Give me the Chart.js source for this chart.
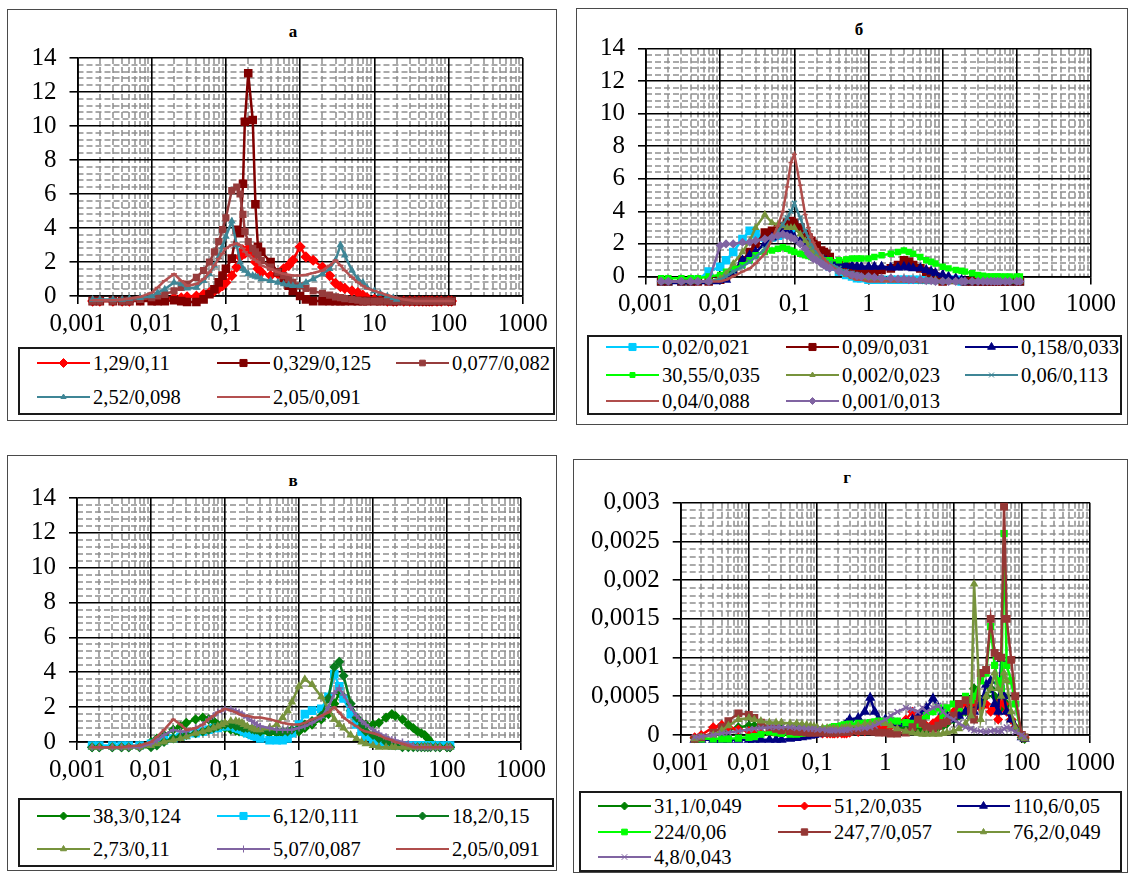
<!DOCTYPE html>
<html>
<head>
<meta charset="utf-8">
<script src="https://cdn.jsdelivr.net/npm/chart.js@4.4.1/dist/chart.umd.min.js"></script>
<style>
  body { margin: 0; width: 1131px; height: 874px; position: relative; overflow: hidden; background: #fff;
         font-family: "Liberation Serif", "Times New Roman", serif; }
  .frame { position: absolute; border: 1.5px solid #4a4a4a; box-sizing: border-box; }
  .ttl { position: absolute; font-weight: bold; font-size: 17px; transform: translate(-50%, -50%); }
  .legend { position: absolute; border: 2px solid #1a1a1a; box-sizing: border-box; }
  .item { position: absolute; font-size: 20.5px; white-space: nowrap; transform: translateY(-50%); }
  canvas { position: absolute; }
</style>
</head>
<body>
<script>
// particle size grid shared by all panels
const sizes = [
  0.0016, 0.002, 0.003, 0.004, 0.005, 0.007,
  0.01, 0.012, 0.015, 0.02, 0.025, 0.03, 0.04, 0.05, 0.06, 0.07, 0.08, 0.09,
  0.1, 0.12, 0.14, 0.155, 0.17, 0.18, 0.2, 0.23, 0.25, 0.27, 0.3, 0.4, 0.5, 0.6, 0.7, 0.8,
  1, 1.2, 1.5, 2, 2.5, 3, 3.5, 4, 5, 6, 7, 8,
  10, 12, 15, 18, 20, 25, 30, 35, 40, 45, 50, 55, 60, 70, 80, 100, 110
];

const decades = [0.001, 0.01, 0.1, 1, 10, 100, 1000];
const decadeLabels = ['0,001', '0,01', '0,1', '1', '10', '100', '1000'];
const yTicks = [0, 2, 4, 6, 8, 10, 12, 14];
const yLabels = ['0', '2', '4', '6', '8', '10', '12', '14'];
const yTicksG = [0, 0.0005, 0.001, 0.0015, 0.002, 0.0025, 0.003];
const yLabelsG = ['0', '0,0005', '0,001', '0,0015', '0,002', '0,0025', '0,003'];

// а
const a_129_011 = [
  -0.3, -0.3, -0.3, -0.3, -0.3, -0.25,
  -0.2, -0.2, -0.15, -0.1, -0.1, -0.05, 0, 0.1, 0.2, 0.3, 0.45, 0.6,
  0.8, 1.2, 1.7, 2.3, 2.7, 2.5, 2.8, 2.6, 2.0, 1.6, 1.4, 1.2, 1.3, 1.6, 1.8, 2.1,
  2.9, 2.3, 2.1, 1.7, 1.2, 0.75, 0.55, 0.45, 0.3, 0.2, 0.05, -0.1,
  -0.2, -0.25, -0.3, -0.3, -0.3, -0.3, -0.3, -0.3, -0.3, -0.3, -0.3, -0.3, -0.3, -0.3, -0.3, -0.3, -0.3
];
const a_0329_0125 = [
  -0.3, -0.3, -0.3, -0.3, -0.3, -0.3,
  -0.3, -0.3, -0.3, -0.25, -0.3, -0.35, -0.35, -0.2, 0.1, 0.4, 0.8, 1.2,
  1.6, 2.2, 3.9, 3.7, 6.6, 10.25, 13.1, 10.35, 5.4, 2.9, 2.6, 2.0, 1.4, 1.0, 0.6, 0.3,
  0.0, -0.2, -0.3, -0.3, -0.3, -0.3, -0.3, -0.3, -0.3, -0.3, -0.3, -0.3,
  -0.3, -0.3, -0.3, -0.3, -0.3, -0.3, -0.3, -0.3, -0.3, -0.3, -0.3, -0.3, -0.3, -0.3, -0.3, -0.3, -0.3
];
const a_0077_0082 = [
  -0.3, -0.3, -0.3, -0.3, -0.3, -0.2,
  -0.1, 0.0, 0.1, 0.3, 0.5, 0.7, 1.1, 1.5, 2.0, 2.6, 3.2, 3.9,
  4.6, 6.2, 6.4, 6.0, 4.8, 3.8, 3.2, 2.8, 2.6, 2.4, 2.1, 1.7, 1.4, 1.2, 1.0, 0.8,
  0.6, 0.45, 0.3, 0.15, 0.05, -0.05, -0.1, -0.15, -0.2, -0.25, -0.3, -0.3,
  -0.3, -0.3, -0.3, -0.3, -0.3, -0.3, -0.3, -0.3, -0.3, -0.3, -0.3, -0.3, -0.3, -0.3, -0.3, -0.3, -0.3
];
const a_252_0098 = [
  -0.2, -0.2, -0.2, -0.2, -0.15, -0.1,
  0.0, 0.2, 0.4, 0.8, 0.7, 0.45, 0.5, 0.9, 1.3, 1.8, 2.3, 2.9,
  3.5, 4.4, 3.0, 2.0, 1.6, 1.5, 1.3, 1.2, 1.15, 1.1, 1.0, 0.9, 0.8, 0.7, 0.65, 0.6,
  0.6, 0.8, 1.0, 1.3, 1.6, 2.1, 3.0, 2.4, 1.5, 1.0, 0.8, 0.5,
  0.3, 0.15, 0.0, -0.1, -0.2, null, null, null, null, null, null, null, null, null, null, null, null
];
const a_205_0091 = [
  -0.25, -0.25, -0.25, -0.2, -0.15, -0.05,
  0.2, 0.5, 0.9, 1.3, 0.9, 0.6, 0.7, 1.0, 1.4, 1.8, 2.2, 2.5,
  2.8, 3.0, 3.1, 3.0, 2.8, 2.6, 2.4, 2.2, 2.1, 2.0, 1.8, 1.6, 1.4, 1.3, 1.25, 1.2,
  1.2, 1.25, 1.35, 1.5, 1.8, 2.1, 1.8, 1.5, 1.1, 0.8, 0.6, 0.45,
  0.3, 0.2, 0.05, -0.05, -0.1, -0.2, -0.25, -0.3, -0.3, -0.3, -0.3, -0.3, -0.3, -0.3, -0.3, -0.3, -0.3
];

// б
const b_002_0021 = [
  -0.3, -0.3, -0.3, -0.3, -0.2, 0.3,
  0.6, 1.0, 1.5, 2.3, 2.8, 2.6, 2.4, 2.4, 2.5, 2.6, 2.7, 2.9,
  3.1, 3.0, 2.5, 2.1, 1.8, 1.6, 1.4, 1.1, 0.9, 0.8, 0.6, 0.3, 0.1, 0.0, -0.1, -0.1,
  -0.2, -0.2, -0.2, -0.2, -0.2, -0.2, -0.2, -0.2, -0.2, -0.2, -0.2, -0.2,
  -0.2, -0.2, -0.2, -0.3, -0.3, -0.3, -0.3, -0.3, -0.3, -0.3, -0.3, -0.3, -0.3, -0.3, -0.3, -0.3, -0.3
];
const b_009_0031 = [
  -0.3, -0.3, -0.3, -0.3, -0.3, -0.3,
  -0.2, 0.0, 0.3, 1.0, 1.5, 2.0, 2.7, 2.8, 2.9, 3.1, 3.3, 3.4,
  3.3, 3.0, 2.6, 2.4, 2.2, 2.0, 1.9, 1.6, 1.5, 1.4, 1.2, 0.8, 0.6, 0.5, 0.4, 0.35,
  0.3, 0.3, 0.4, 0.5, 0.7, 1.0, 0.9, 0.7, 0.5, 0.3, 0.2, 0.0,
  -0.3, -0.4, -0.4, -0.4, -0.3, -0.3, -0.3, -0.3, -0.3, -0.3, -0.3, -0.3, -0.3, -0.3, -0.3, -0.3, -0.3
];
const b_0158_0033 = [
  -0.4, -0.4, -0.4, -0.4, -0.4, -0.4,
  -0.4, -0.2, 0.3, 1.0, 1.3, 1.5, 2.0, 2.4, 2.6, 2.7, 2.7, 2.6,
  2.4, 2.2, 2.0, 1.8, 1.6, 1.5, 1.3, 1.1, 1.0, 0.95, 0.9, 0.8, 0.7, 0.65, 0.6, 0.6,
  0.6, 0.6, 0.6, 0.55, 0.55, 0.6, 0.55, 0.5, 0.5, 0.4, 0.3, 0.2,
  0.1, 0.0, -0.1, -0.2, -0.3, -0.4, -0.4, -0.4, -0.4, -0.4, -0.4, -0.4, -0.4, -0.4, -0.4, -0.4, -0.4
];
const b_3055_0035 = [
  -0.1, -0.1, -0.1, -0.1, -0.1, 0.0,
  0.1, 0.3, 0.5, 0.7, 1.0, 1.3, 1.5, 1.6, 1.7, 1.8, 1.7, 1.6,
  1.5, 1.4, 1.3, 1.25, 1.2, 1.15, 1.1, 1.05, 1.0, 1.0, 1.0, 1.0, 1.05, 1.1, 1.1, 1.1,
  1.1, 1.2, 1.3, 1.4, 1.5, 1.6, 1.5, 1.4, 1.2, 1.0, 0.9, 0.8,
  0.6, 0.5, 0.4, 0.35, 0.3, 0.2, 0.1, 0.05, 0.0, 0.0, 0.0, 0.0, 0.0, 0.0, 0.0, 0.0, 0.0
];
const b_0002_0023 = [
  -0.3, -0.3, -0.3, -0.3, -0.3, -0.3,
  -0.1, 0.2, 0.8, 1.5, 2.2, 3.0, 3.8, 3.3, 3.2, 3.1, 3.0, 3.0,
  3.0, 2.6, 2.2, 1.9, 1.6, 1.5, 1.3, 1.0, 0.9, 0.75, 0.6, 0.3, 0.1, 0.0, -0.1, -0.1,
  -0.2, -0.2, -0.2, -0.2, -0.2, -0.2, -0.2, -0.2, -0.2, -0.2, -0.2, -0.2,
  -0.3, -0.3, -0.3, -0.3, -0.3, -0.3, -0.3, -0.3, -0.3, -0.3, -0.3, -0.3, -0.3, -0.3, -0.3, -0.3, -0.3
];
const b_006_0113 = [
  -0.3, -0.3, -0.3, -0.3, -0.3, -0.3,
  -0.2, 0.0, 0.3, 0.6, 0.9, 1.2, 1.7, 2.3, 2.8, 3.2, 3.6, 4.0,
  4.5, 3.6, 2.8, 2.4, 2.0, 1.8, 1.5, 1.2, 1.0, 0.9, 0.8, 0.5, 0.3, 0.2, 0.1, 0.0,
  0.0, -0.1, -0.1, -0.2, -0.2, -0.2, -0.2, -0.2, -0.3, -0.3, -0.3, -0.3,
  -0.3, -0.3, -0.3, -0.3, -0.3, -0.3, -0.3, -0.3, -0.3, -0.3, -0.3, -0.3, -0.3, -0.3, -0.3, -0.3, -0.3
];
const b_004_0088 = [
  -0.3, -0.3, -0.3, -0.3, -0.3, -0.3,
  -0.3, -0.2, 0.0, 0.3, 0.5, 0.8, 1.4, 2.3, 3.1, 4.0, 5.5, 7.0,
  7.5, 5.6, 3.8, 3.0, 2.4, 2.1, 1.7, 1.3, 1.1, 0.9, 0.7, 0.3, 0.1, -0.1, -0.2, -0.2,
  -0.3, -0.3, -0.3, -0.3, -0.3, -0.3, -0.3, -0.3, -0.3, -0.3, -0.3, -0.3,
  -0.3, -0.3, -0.3, -0.3, -0.3, -0.3, -0.3, -0.3, -0.3, -0.3, -0.3, -0.3, -0.3, -0.3, -0.3, -0.3, -0.3
];
const b_0001_0013 = [
  -0.3, -0.3, -0.3, -0.3, -0.3, -0.3,
  1.9, 2.0, 2.0, 2.1, 2.1, 2.2, 2.3, 2.4, 2.5, 2.6, 2.5, 2.4,
  2.3, 2.0, 1.7, 1.4, 1.2, 1.1, 1.0, 0.8, 0.7, 0.6, 0.5, 0.3, 0.2, 0.1, 0.05, 0.0,
  0.0, -0.05, -0.1, -0.1, -0.15, -0.15, -0.2, -0.2, -0.2, -0.25, -0.25, -0.3,
  -0.3, -0.3, -0.3, -0.3, -0.3, -0.3, -0.3, -0.3, -0.3, -0.3, -0.3, -0.3, -0.3, -0.3, -0.3, -0.3, -0.3
];

// в
const c_383_0124 = [
  -0.3, -0.3, -0.3, -0.3, -0.3, -0.2,
  0.0, 0.2, 0.4, 0.7, 0.9, 1.1, 1.3, 1.4, 1.3, 1.2, 1.0, 0.9,
  0.8, 0.7, 0.65, 0.6, 0.6, 0.55, 0.5, 0.5, 0.5, 0.5, 0.5, 0.5, 0.5, 0.5, 0.55, 0.6,
  0.6, 0.8, 1.0, 1.3, 1.6, 2.2, 2.8, 2.6, 1.8, 1.3, 1.1, 1.0,
  1.0, 1.1, 1.4, 1.6, 1.5, 1.3, 1.0, 0.8, 0.6, 0.5, 0.4, 0.2, 0.0, -0.2, -0.3, -0.3, -0.3
];
const c_612_0111 = [
  -0.2, -0.2, -0.2, -0.2, -0.2, -0.2,
  -0.1, 0.0, 0.1, 0.2, 0.3, 0.4, 0.5, 0.6, 0.7, 0.8, 0.8, 0.9,
  0.9, 0.9, 0.8, 0.75, 0.7, 0.6, 0.5, 0.4, 0.35, 0.3, 0.2, 0.1, 0.1, 0.1, 0.2, 0.5,
  1.0, 1.6, 1.8, 1.9, 2.6, 3.9, 3.2, 2.5, 1.6, 1.0, 0.6, 0.3,
  0.1, 0.0, -0.1, -0.2, -0.2, -0.2, -0.2, -0.2, -0.2, -0.2, -0.2, -0.2, -0.2, -0.2, -0.2, -0.2, -0.2
];
const c_182_015 = [
  -0.3, -0.3, -0.3, -0.3, -0.3, -0.3,
  -0.3, -0.2, 0.0, 0.2, 0.3, 0.4, 0.5, 0.6, 0.7, 0.8, 0.9, 1.0,
  1.0, 1.0, 0.9, 0.9, 0.85, 0.8, 0.8, 0.75, 0.7, 0.7, 0.6, 0.6, 0.6, 0.6, 0.6, 0.7,
  0.8, 1.0, 1.2, 1.5, 2.5, 4.3, 4.6, 3.8, 2.2, 1.4, 0.9, 0.6,
  0.4, 0.2, 0.0, -0.1, -0.2, -0.3, -0.3, -0.3, -0.3, -0.3, -0.3, -0.3, -0.3, -0.3, -0.3, -0.3, -0.3
];
const c_273_011 = [
  -0.3, -0.3, -0.3, -0.3, -0.3, -0.3,
  -0.2, -0.1, 0.0, 0.1, 0.2, 0.3, 0.5, 0.6, 0.7, 0.8, 0.9, 1.0,
  1.1, 1.2, 1.2, 1.15, 1.1, 1.0, 0.9, 0.8, 0.75, 0.7, 0.7, 0.8, 1.0, 1.4, 1.8, 2.3,
  3.2, 3.6, 3.3, 2.6, 1.9, 1.3, 1.0, 0.8, 0.4, 0.2, 0.0, -0.1,
  -0.2, -0.3, -0.3, -0.3, -0.3, -0.3, -0.3, -0.3, -0.3, -0.3, -0.3, -0.3, -0.3, -0.3, -0.3, -0.3, -0.3
];
const c_507_0087 = [
  -0.3, -0.3, -0.3, -0.3, -0.3, -0.3,
  -0.1, 0.1, 0.4, 0.7, 0.6, 0.6, 0.8, 1.0, 1.3, 1.5, 1.7, 1.8,
  1.9, 1.9, 1.8, 1.7, 1.6, 1.5, 1.4, 1.2, 1.1, 1.0, 0.9, 0.8, 0.7, 0.7, 0.7, 0.7,
  0.8, 0.9, 1.1, 1.4, 2.0, 2.8, 3.1, 2.7, 2.0, 1.5, 1.2, 1.0,
  0.7, 0.5, 0.3, 0.15, 0.1, 0.0, -0.1, -0.2, -0.3, -0.3, -0.3, -0.3, -0.3, -0.3, -0.3, -0.3, -0.3
];
const c_205_0091 = [
  -0.3, -0.3, -0.3, -0.3, -0.25, -0.2,
  0.0, 0.3, 0.7, 1.3, 1.0, 0.7, 0.8, 1.0, 1.3, 1.5, 1.7, 1.8,
  1.9, 1.8, 1.7, 1.6, 1.55, 1.5, 1.5, 1.45, 1.4, 1.4, 1.4, 1.3, 1.2, 1.1, 1.05, 1.0,
  1.0, 1.1, 1.3, 1.5, 1.7, 2.0, 1.7, 1.4, 1.1, 0.9, 0.7, 0.6,
  0.5, 0.4, 0.2, 0.1, 0.0, -0.1, -0.2, -0.3, -0.3, -0.3, -0.3, -0.3, -0.3, -0.3, -0.3, -0.3, -0.3
];

// г
const d_311_0049 = [
  -0.4e-4, -0.3e-4, 0, 0.3e-4, 0.7e-4, 1.0e-4,
  1.2e-4, 1.2e-4, 1.1e-4, 1.0e-4, 0.9e-4, 0.8e-4, 0.7e-4, 0.6e-4, 0.6e-4, 0.5e-4, 0.5e-4, 0.5e-4,
  0.5e-4, 0.5e-4, 0.5e-4, 0.6e-4, 0.6e-4, 0.7e-4, 0.7e-4, 0.8e-4, 0.8e-4, 0.9e-4, 1.0e-4, 1.1e-4, 1.2e-4, 1.2e-4, 1.3e-4, 1.3e-4,
  1.3e-4, 1.2e-4, 1.0e-4, 0.8e-4, 0.6e-4, 0.5e-4, 0.5e-4, 0.6e-4, 0.8e-4, 1.0e-4, 1.2e-4, 1.5e-4,
  2.0e-4, 2.5e-4, 3.0e-4, 3.5e-4, 6.0e-4, 4.0e-4, 5.0e-4, 6.0e-4, 5.0e-4, 4.0e-4, 3.5e-4, 5.0e-4, 4.0e-4, 2.0e-4, 1.0e-4, -0.3e-4, -0.5e-4
];
const d_512_0035 = [
  -0.3e-4, 0, 1.0e-4, 1.3e-4, 1.0e-4, 0.7e-4,
  0.5e-4, 0.4e-4, 0.3e-4, 0.3e-4, 0.2e-4, 0.2e-4, 0.2e-4, 0.2e-4, 0.2e-4, 0.2e-4, 0.2e-4, 0.2e-4,
  0.2e-4, 0.2e-4, 0.2e-4, 0.2e-4, 0.2e-4, 0.2e-4, 0.2e-4, 0.2e-4, 0.2e-4, 0.2e-4, 0.3e-4, 0.4e-4, 0.5e-4, 0.6e-4, 0.7e-4, 0.8e-4,
  1.0e-4, 1.2e-4, 1.5e-4, 2.0e-4, 3.0e-4, 2.5e-4, 1.5e-4, 1.2e-4, 1.5e-4, 2.0e-4, 2.5e-4, 2.5e-4,
  3.0e-4, 3.5e-4, 4.0e-4, 4.5e-4, 4.0e-4, 3.5e-4, 4.0e-4, 3.0e-4, 3.5e-4, 2.0e-4, 4.5e-4, 4.0e-4, 3.0e-4, 2.0e-4, 1.0e-4, 0, -0.3e-4
];
const d_1106_005 = [
  -0.6e-4, -0.6e-4, -0.6e-4, -0.6e-4, -0.6e-4, -0.6e-4,
  -0.6e-4, -0.6e-4, -0.6e-4, -0.6e-4, -0.6e-4, -0.6e-4, -0.5e-4, -0.4e-4, -0.3e-4, -0.2e-4, -0.1e-4, 0,
  0.1e-4, 0.2e-4, 0.3e-4, 0.4e-4, 0.5e-4, 0.6e-4, 0.8e-4, 1.0e-4, 1.2e-4, 1.5e-4, 2.0e-4, 2.2e-4, 3.0e-4, 4.8e-4, 3.0e-4, 2.0e-4,
  2.0e-4, 1.8e-4, 1.5e-4, 1.5e-4, 2.0e-4, 2.5e-4, 3.0e-4, 3.5e-4, 4.7e-4, 3.5e-4, 3.0e-4, 2.5e-4,
  2.0e-4, 2.5e-4, 3.0e-4, 2.5e-4, 3.0e-4, 4.0e-4, 6.5e-4, 7.0e-4, 4.0e-4, 3.0e-4, 9.8e-4, 5.0e-4, 3.0e-4, 2.0e-4, 1.0e-4, -0.3e-4, -0.5e-4
];
const d_224_006 = [
  -0.5e-4, -0.5e-4, -0.5e-4, -0.5e-4, -0.5e-4, -0.4e-4,
  -0.3e-4, -0.2e-4, 0.1e-4, 0.4e-4, 0.3e-4, 0.2e-4, 0.1e-4, 0.1e-4, 0.2e-4, 0.3e-4, 0.4e-4, 0.5e-4,
  0.6e-4, 0.7e-4, 0.8e-4, 0.9e-4, 1.0e-4, 1.1e-4, 1.1e-4, 1.2e-4, 1.3e-4, 1.3e-4, 1.4e-4, 1.5e-4, 1.5e-4, 1.6e-4, 1.7e-4, 1.8e-4,
  1.8e-4, 1.9e-4, 1.8e-4, 1.6e-4, 1.5e-4, 1.4e-4, 2.0e-4, 2.5e-4, 3.0e-4, 3.5e-4, 2.5e-4, 3.5e-4,
  4.0e-4, 3.5e-4, 5.0e-4, 4.5e-4, 5.0e-4, 7.0e-4, 8.0e-4, 14.0e-4, 9.0e-4, 7.0e-4, 6.0e-4, 26.0e-4, 9.0e-4, 7.0e-4, 4.0e-4, 0, -0.3e-4
];
const d_2477_0057 = [
  -0.5e-4, -0.3e-4, 0.3e-4, 1.0e-4, 1.8e-4, 2.8e-4,
  2.6e-4, 2.2e-4, 1.6e-4, 1.0e-4, 0.8e-4, 0.6e-4, 0.5e-4, 0.4e-4, 0.4e-4, 0.3e-4, 0.3e-4, 0.3e-4,
  0.3e-4, 0.3e-4, 0.3e-4, 0.3e-4, 0.3e-4, 0.3e-4, 0.3e-4, 0.4e-4, 0.4e-4, 0.4e-4, 0.4e-4, 0.5e-4, 0.5e-4, 0.5e-4, 0.4e-4, 0.3e-4,
  0.3e-4, 0.2e-4, 0.2e-4, 0.3e-4, 1.0e-4, 2.0e-4, 1.5e-4, 1.0e-4, 0.8e-4, 1.2e-4, 1.5e-4, 1.8e-4,
  2.5e-4, 4.0e-4, 4.5e-4, 3.0e-4, 2.0e-4, 8.0e-4, 8.4e-4, 15.0e-4, 10.6e-4, 10.2e-4, 10.0e-4, 29.5e-4, 15.0e-4, 9.7e-4, 5.0e-4, 0, -0.3e-4
];
const d_762_0049 = [
  -0.5e-4, -0.3e-4, 0, 0.6e-4, 1.2e-4, 2.0e-4,
  2.2e-4, 2.0e-4, 1.8e-4, 1.6e-4, 1.6e-4, 1.6e-4, 1.5e-4, 1.5e-4, 1.4e-4, 1.3e-4, 1.2e-4, 1.1e-4,
  1.0e-4, 0.9e-4, 0.9e-4, 0.8e-4, 0.8e-4, 0.8e-4, 0.8e-4, 0.9e-4, 0.9e-4, 1.0e-4, 1.1e-4, 1.2e-4, 1.4e-4, 1.5e-4, 1.5e-4, 1.6e-4,
  1.5e-4, 1.2e-4, 0.8e-4, 0.5e-4, 0.3e-4, 0.2e-4, 0.1e-4, 0.1e-4, 0.1e-4, 0.1e-4, 0.2e-4, 0.3e-4,
  0.5e-4, 0.8e-4, 1.5e-4, 2.5e-4, 19.5e-4, 2.0e-4, 5.0e-4, 6.0e-4, 8.0e-4, 6.0e-4, 5.0e-4, 8.0e-4, 7.0e-4, 3.0e-4, 1.0e-4, -0.3e-4, -0.5e-4
];
const d_48_0043 = [
  -0.3e-4, -0.2e-4, 0, 0.2e-4, 0.3e-4, 0.5e-4,
  0.7e-4, 0.8e-4, 0.9e-4, 1.0e-4, 1.0e-4, 1.0e-4, 1.0e-4, 0.9e-4, 0.9e-4, 0.8e-4, 0.8e-4, 0.8e-4,
  0.7e-4, 0.7e-4, 0.6e-4, 0.6e-4, 0.6e-4, 0.6e-4, 0.6e-4, 0.6e-4, 0.65e-4, 0.7e-4, 0.7e-4, 0.8e-4, 0.9e-4, 1.0e-4, 1.2e-4, 1.5e-4,
  2.0e-4, 2.5e-4, 3.0e-4, 3.5e-4, 3.3e-4, 3.0e-4, 3.5e-4, 3.0e-4, 3.5e-4, 3.8e-4, 3.0e-4, 2.5e-4,
  2.0e-4, 1.5e-4, 1.0e-4, 0.8e-4, 0.6e-4, 0.5e-4, 0.4e-4, 0.5e-4, 0.6e-4, 0.5e-4, 0.5e-4, 0.8e-4, 1.0e-4, 0.8e-4, 0.4e-4, 0, -0.3e-4
];

// boxes: [left, top, right, bottom] in page pixels
const panels = [
  {
    title: 'а', box: [7, 9, 557, 421], plot: [77.5, 58, 522.7, 296], titleAt: [293, 32],
    legend: [18, 347, 555, 415], rows: [16, 50],
    ticks: yTicks, labels: yLabels, minorStep: 0.4,
    series: [
      { label: '1,29/0,11', values: a_129_011, color: '#ff0000', marker: 'rectRot', r: 4.5 },
      { label: '0,329/0,125', values: a_0329_0125, color: '#800000', marker: 'rect', r: 5 },
      { label: '0,077/0,082', values: a_0077_0082, color: '#963c3c', marker: 'rect', r: 4 },
      { label: '2,52/0,098', values: a_252_0098, color: '#3f8696', marker: 'triangle', r: 3 },
      { label: '2,05/0,091', values: a_205_0091, color: '#b45050', marker: 'line', r: 3 }
    ]
  },
  {
    title: 'б', box: [576, 8, 1128, 425], plot: [646, 48.5, 1091, 276.5], titleAt: [859, 30],
    legend: [587, 335, 1122, 415], rows: [12, 40, 66],
    ticks: yTicks, labels: yLabels, minorStep: 0.4,
    series: [
      { label: '0,02/0,021', values: b_002_0021, color: '#00ccff', marker: 'rect', r: 5 },
      { label: '0,09/0,031', values: b_009_0031, color: '#800000', marker: 'rect', r: 5 },
      { label: '0,158/0,033', values: b_0158_0033, color: '#000080', marker: 'triangle', r: 4.5 },
      { label: '30,55/0,035', values: b_3055_0035, color: '#00ff00', marker: 'rect', r: 3.5 },
      { label: '0,002/0,023', values: b_0002_0023, color: '#77933c', marker: 'triangle', r: 3 },
      { label: '0,06/0,113', values: b_006_0113, color: '#3f8696', marker: 'crossRot', r: 3.5 },
      { label: '0,04/0,088', values: b_004_0088, color: '#b04e4c', marker: 'line', r: 2.5 },
      { label: '0,001/0,013', values: b_0001_0013, color: '#8064a2', marker: 'rectRot', r: 3.5 }
    ]
  },
  {
    title: 'в', box: [7, 455, 557, 871], plot: [77, 498, 521, 742], titleAt: [293, 481],
    legend: [18, 798, 554, 867], rows: [18, 51],
    ticks: yTicks, labels: yLabels, minorStep: 0.4,
    series: [
      { label: '38,3/0,124', values: c_383_0124, color: '#008000', marker: 'rectRot', r: 4 },
      { label: '6,12/0,111', values: c_612_0111, color: '#00ccff', marker: 'rect', r: 5 },
      { label: '18,2/0,15', values: c_182_015, color: '#0a7a1e', marker: 'rectRot', r: 4 },
      { label: '2,73/0,11', values: c_273_011, color: '#77933c', marker: 'triangle', r: 3.5 },
      { label: '5,07/0,087', values: c_507_0087, color: '#8064a2', marker: 'cross', r: 3.5 },
      { label: '2,05/0,091', values: c_205_0091, color: '#b04e4c', marker: 'line', r: 2.5 }
    ]
  },
  {
    title: 'г', box: [573, 459, 1128, 873], plot: [680.7, 502.7, 1090, 735], titleAt: [847, 478],
    legend: [579, 791, 1122, 872], rows: [15, 41, 66],
    ticks: yTicksG, labels: yLabelsG, minorStep: 0.0001,
    series: [
      { label: '31,1/0,049', values: d_311_0049, color: '#008000', marker: 'rectRot', r: 4 },
      { label: '51,2/0,035', values: d_512_0035, color: '#ff0000', marker: 'rectRot', r: 4 },
      { label: '110,6/0,05', values: d_1106_005, color: '#000080', marker: 'triangle', r: 4.5 },
      { label: '224/0,06', values: d_224_006, color: '#00ff00', marker: 'rect', r: 4 },
      { label: '247,7/0,057', values: d_2477_0057, color: '#953735', marker: 'rect', r: 4.5 },
      { label: '76,2/0,049', values: d_762_0049, color: '#77933c', marker: 'triangle', r: 3.5 },
      { label: '4,8/0,043', values: d_48_0043, color: '#8064a2', marker: 'crossRot', r: 4 }
    ]
  }
];

const legendCols = [19, 199, 378];
const tickFont = { family: "'Liberation Serif', 'Times New Roman', serif", size: 25 };

// dashed minor grid under the solid major one
const minorGrid = {
  id: 'minorGrid',
  beforeDraw(chart, args, opts) {
    const { ctx, chartArea: a, scales: { x, y } } = chart;
    ctx.save();
    ctx.strokeStyle = '#8f8f8f';
    ctx.lineWidth = 1.5;
    ctx.setLineDash([6, 3]);
    ctx.beginPath();
    decades.slice(0, -1).forEach(d => {
      for (let m = 2; m < 10; m++) {
        const px = Math.round(x.getPixelForValue(d * m));
        ctx.moveTo(px, a.top);
        ctx.lineTo(px, a.bottom);
      }
    });
    const n = Math.round(y.max / opts.step);
    for (let k = 1; k < n; k++) {
      if (k % 5 === 0) continue;
      const py = Math.round(y.getPixelForValue(k * opts.step));
      ctx.moveTo(a.left, py);
      ctx.lineTo(a.right, py);
    }
    ctx.stroke();
    ctx.restore();
  }
};

function place(el, l, t, w, h) {
  el.style.left = l + 'px';
  el.style.top = t + 'px';
  if (w !== undefined) el.style.width = w + 'px';
  if (h !== undefined) el.style.height = h + 'px';
  document.body.appendChild(el);
}

function buildPanel(p) {
  const [bl, bt, br, bb] = p.box;
  const frame = document.createElement('div');
  frame.className = 'frame';
  place(frame, bl, bt, br - bl, bb - bt);

  const ttl = document.createElement('div');
  ttl.className = 'ttl';
  ttl.textContent = p.title;
  place(ttl, p.titleAt[0], p.titleAt[1]);

  // chart canvas: from the frame top down to the legend
  const cl = bl + 1, ct = bt + 1, cr = br - 1, cb = p.legend[1] - 2;
  const cv = document.createElement('canvas');
  cv.width = cr - cl;
  cv.height = cb - ct;
  place(cv, cl, ct, cr - cl, cb - ct);

  const [pl, ptop, pr, pb] = p.plot;
  const n = p.series.length;
  const datasets = p.series.map((s, i) => ({
    label: s.label,
    data: sizes.map((x, k) => ({ x, y: s.values[k] })).filter(d => d.y !== null),
    showLine: true,
    tension: 0,
    borderColor: s.color,
    backgroundColor: s.color,
    borderWidth: 2.5,
    pointStyle: s.marker,
    pointRadius: s.r,
    pointBorderWidth: 1.5,
    pointBackgroundColor: s.color,
    pointBorderColor: s.color,
    clip: false,
    order: n - i
  }));

  new Chart(cv, {
    type: 'scatter',
    data: { datasets },
    options: {
      responsive: false,
      animation: false,
      events: [],
      layout: { padding: { left: 0, top: ptop - ct, right: cr - pr, bottom: 0 } },
      plugins: {
        legend: { display: false },
        tooltip: { enabled: false },
        minorGrid: { step: p.minorStep }
      },
      scales: {
        x: {
          type: 'logarithmic',
          min: 0.001,
          max: 1000,
          afterBuildTicks: s => { s.ticks = decades.map(v => ({ value: v, major: true })); },
          afterFit: s => { s.height = cb - pb; },
          ticks: { autoSkip: false, maxRotation: 0, padding: 5, color: '#000', font: tickFont,
                   callback: (v, i) => decadeLabels[i] },
          grid: { color: '#000', lineWidth: 1.6, tickLength: 8, tickColor: '#000' },
          border: { color: '#000', width: 1.8 }
        },
        y: {
          type: 'linear',
          min: 0,
          max: p.ticks[p.ticks.length - 1],
          afterBuildTicks: s => { s.ticks = p.ticks.map(v => ({ value: v })); },
          afterFit: s => { s.width = pl - cl; },
          ticks: { autoSkip: false, padding: 13, color: '#000', font: tickFont,
                   callback: (v, i) => p.labels[i] },
          grid: { color: '#000', lineWidth: 1.6, tickLength: 8, tickColor: '#000' },
          border: { color: '#000', width: 1.8 }
        }
      }
    },
    plugins: [minorGrid]
  });

  // legend box in three columns
  const [ll, lt, lr, lb] = p.legend;
  const box = document.createElement('div');
  box.className = 'legend';
  place(box, ll, lt, lr - ll, lb - lt);
  p.series.forEach((s, i) => {
    const x = ll + legendCols[i % 3];
    const y = lt + p.rows[Math.floor(i / 3)];
    const sample = document.createElement('canvas');
    sample.width = 56;
    sample.height = 22;
    place(sample, x, y - 11, 56, 22);
    const g = sample.getContext('2d');
    g.strokeStyle = s.color;
    g.fillStyle = s.color;
    g.lineWidth = 2;
    g.beginPath();
    g.moveTo(0, 11);
    g.lineTo(53, 11);
    g.stroke();
    g.lineWidth = 1;
    Chart.helpers.drawPoint(g, { pointStyle: s.marker, radius: s.r, borderWidth: 1, rotation: 0 }, 26.5, 11);
    const txt = document.createElement('div');
    txt.className = 'item';
    txt.textContent = s.label;
    place(txt, x + 56, y);
  });
}

panels.forEach(buildPanel);
</script>
</body>
</html>
